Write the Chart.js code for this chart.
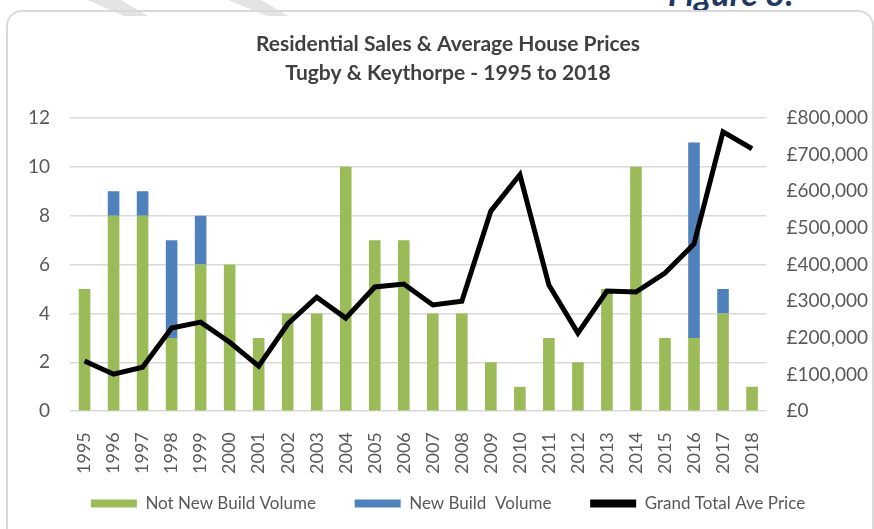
<!DOCTYPE html>
<html>
<head>
<meta charset="utf-8">
<script src="https://cdn.jsdelivr.net/npm/chart.js@4/dist/chart.umd.min.js"></script>
<style>
  body { margin: 0; background: #fff; width: 874px; height: 529px; overflow: hidden; position: relative; font-family: Lato, sans-serif; }
  #fig { position: absolute; left: 668px; top: -28px; font-size: 34px; font-style: italic; font-weight: bold; color: #1f3864; }
  .mark { position: absolute; top: 0; height: 16px; background: #e3e3e3; }
  #m1 { left: 88px; width: 60px; clip-path: polygon(0 0, 55% 0, 100% 100%, 60% 100%); }
  #m2 { left: 228px; width: 60px; clip-path: polygon(0 0, 55% 0, 100% 100%, 65% 100%); }
  #frame { position: absolute; left: 6px; top: 10px; width: 864px; height: 530px; border: 2px solid #d9d9d9; border-radius: 16px; }
  #wrap { position: absolute; left: 0; top: 0; width: 874px; height: 529px; }
</style>
</head>
<body>
<div class="mark" id="m1"></div>
<div class="mark" id="m2"></div>
<div id="fig">Figure 8:</div>
<div id="frame"></div>
<div id="wrap"><canvas id="salesChart"></canvas></div>
<script>
// years and volumes
const years = ['1995','1996','1997','1998','1999','2000','2001','2002','2003','2004','2005','2006',
               '2007','2008','2009','2010','2011','2012','2013','2014','2015','2016','2017','2018'];
const notNewBuild = [5, 8, 8, 3, 6, 6, 3, 4, 4, 10, 7, 7, 4, 4, 2, 1, 3, 2, 5, 10, 3, 3, 4, 1];
const newBuild    = [0, 1, 1, 4, 2, 0, 0, 0, 0, 0, 0, 0, 0, 0, 0, 0, 0, 0, 0, 0, 0, 8, 1, 0];
const avePrice = [137000, 101000, 120000, 227000, 243000, 188000, 123000, 238000, 311000, 254000, 339000, 347000,
                  290000, 300000, 546000, 645000, 344000, 213000, 328000, 325000, 377000, 456000, 762000, 716000];

const tickColor = '#595959';
// extra room after the first two legend entries (legend padding is kept small for the vertical layout)
const legendGap = '\u00A0'.repeat(5);

new Chart(salesChart, {
    data: {
        labels: years,
        datasets: [{
            type: 'line',
            label: 'Grand Total Ave Price',
            data: avePrice,
            yAxisID: 'y1',
            borderColor: '#000',
            backgroundColor: '#000',
            borderWidth: 5,
            pointRadius: 0,
            tension: 0,
            order: 0
        },
        {
            type: 'bar',
            label: 'Not New Build Volume',
            data: notNewBuild,
            backgroundColor: '#9bbb59',
            stack: 'vol',
            barPercentage: 0.4,
            categoryPercentage: 1,
            order: 1
        },
        {
            type: 'bar',
            label: 'New Build  Volume',
            data: newBuild,
            backgroundColor: '#4f81bd',
            stack: 'vol',
            barPercentage: 0.4,
            categoryPercentage: 1,
            order: 1
        }]
    },
    options: {
        responsive: true,
        maintainAspectRatio: false,
        animation: false,
        layout: { padding: { left: 8, right: -14, top: 30, bottom: 7 } },
        plugins: {
            title: {
                display: true,
                text: ['Residential Sales & Average House Prices', 'Tugby & Keythorpe - 1995 to 2018'],
                color: '#404040',
                font: { family: 'Lato', size: 21, weight: 'bold', lineHeight: 1.38 },
                padding: { top: 0, bottom: 30 }
            },
            legend: {
                position: 'bottom',
                labels: {
                    color: tickColor,
                    font: { family: 'Lato', size: 17 },
                    boxWidth: 46,
                    boxHeight: 8,
                    padding: 17,
                    generateLabels: function (chart) {
                        const order = [1, 2, 0];
                        return order.map(i => {
                            const ds = chart.data.datasets[i];
                            return {
                                text: ds.type === 'line' ? ds.label : ds.label + legendGap,
                                fillStyle: ds.type === 'line' ? '#000' : ds.backgroundColor,
                                strokeStyle: ds.type === 'line' ? '#000' : ds.backgroundColor,
                                lineWidth: 0,
                                fontColor: tickColor,
                                datasetIndex: i
                            };
                        });
                    }
                }
            },
            tooltip: { enabled: false }
        },
        scales: {
            x: {
                stacked: true,
                grid: { display: false, drawTicks: false },
                border: { display: false },
                afterFit: scale => { scale.height -= 17; },
                ticks: {
                    color: tickColor,
                    font: { family: 'Lato', size: 18 },
                    minRotation: 90,
                    maxRotation: 90,
                    padding: 21
                }
            },
            y: {
                stacked: true,
                position: 'left',
                min: 0,
                max: 12,
                ticks: { stepSize: 2, color: tickColor, font: { family: 'Lato', size: 19 }, padding: 20 },
                grid: { color: '#d9d9d9', lineWidth: 1.5, drawTicks: false },
                border: { display: false }
            },
            y1: {
                position: 'right',
                min: 0,
                max: 800000,
                ticks: {
                    stepSize: 100000,
                    color: tickColor,
                    font: { family: 'Lato', size: 19 },
                    padding: 20,
                    callback: v => '£' + v.toLocaleString('en-GB')
                },
                grid: { display: false, drawTicks: false },
                border: { display: false }
            }
        }
    }
});
</script>
</body>
</html>
